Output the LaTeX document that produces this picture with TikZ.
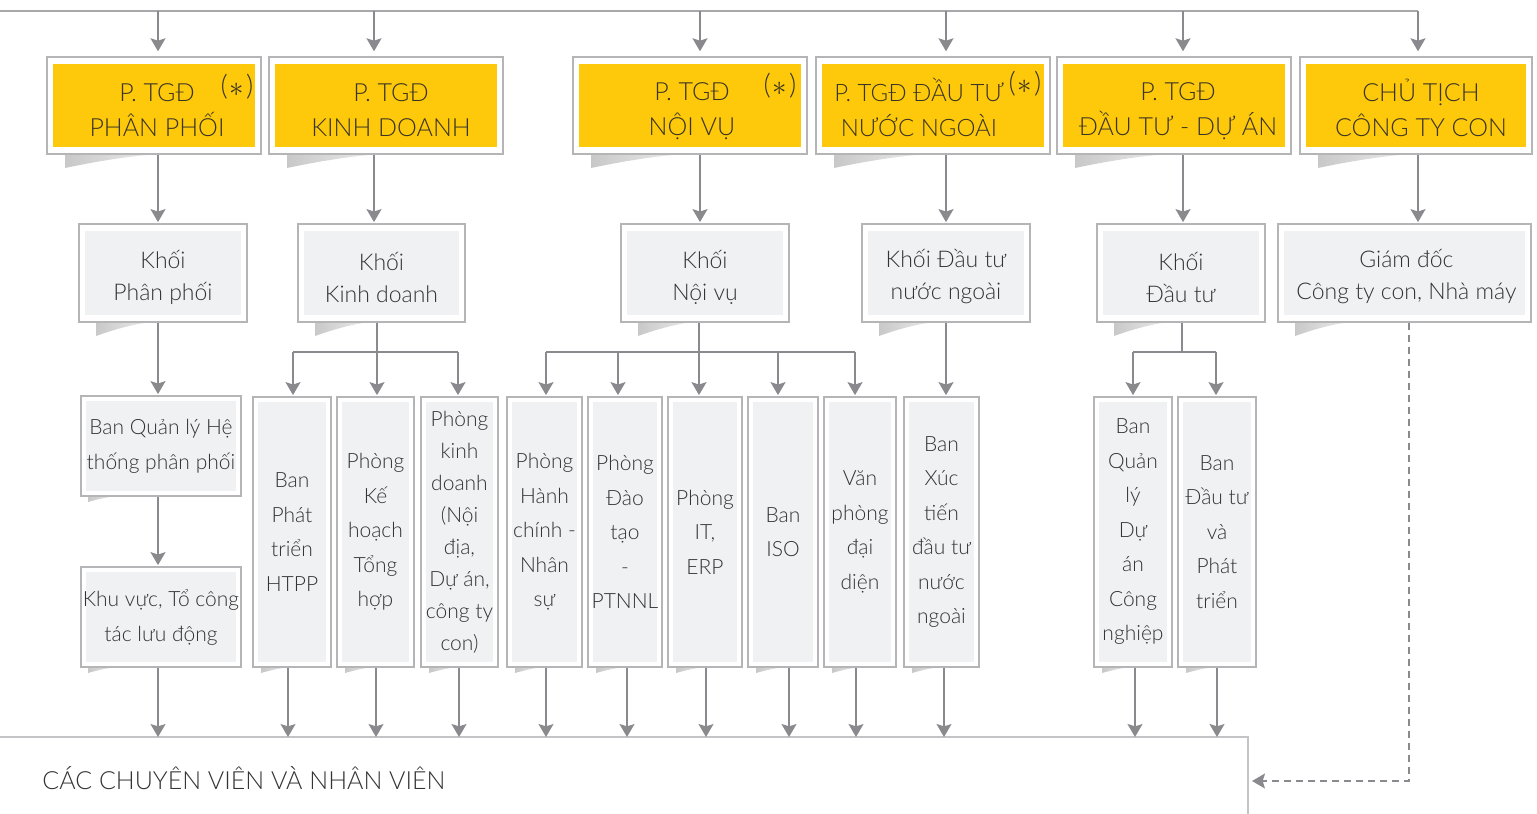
\documentclass[tikz,border=0pt]{standalone}
\usepackage{fontspec}
\setmainfont{Lato Light}
\usetikzlibrary{arrows.meta}
\definecolor{ylw}{HTML}{FEC90B}
\definecolor{innerc}{HTML}{F0F1F3}
\definecolor{framec}{HTML}{B5B5B8}
\definecolor{linec}{HTML}{8A8A8E}
\definecolor{topc}{HTML}{A8A8AB}
\definecolor{txtc}{HTML}{333333}
\definecolor{ytxt}{HTML}{3A3424}
\definecolor{shdk}{HTML}{C8C8C8}
\definecolor{shlt}{HTML}{EDEDED}
\definecolor{staffc}{HTML}{C4C4C6}
\tikzset{
  frame/.style={draw=framec, line width=0.7pt, fill=white, inner sep=0pt},
  yin/.style={path picture={\fill[ylw] ([xshift=2.9pt,yshift=-3.4pt]path picture bounding box.north west) rectangle ([xshift=-2.9pt,yshift=3.3pt]path picture bounding box.south east);}},
  gin/.style={path picture={\fill[innerc] ([xshift=3pt,yshift=-3.4pt]path picture bounding box.north west) rectangle ([xshift=-3pt,yshift=3.4pt]path picture bounding box.south east);}},
  cin/.style={path picture={\fill[innerc] ([xshift=2.5pt,yshift=-2.6pt]path picture bounding box.north west) rectangle ([xshift=-2.5pt,yshift=2.6pt]path picture bounding box.south east);}},
  ytext/.style={text=ytxt, align=center, inner sep=0pt, font=\fontsize{12.5}{17.5}\selectfont},
  star/.style={text=ytxt, inner sep=0pt, font=\fontsize{14}{15}\selectfont},
  gtext/.style={text=txtc, align=center, inner sep=0pt, font=\fontsize{11.5}{16}\selectfont},
  atext/.style={text=txtc, align=center, inner sep=0pt, font=\fontsize{10.5}{17.5}\selectfont},
  ctext/.style={text=txtc, align=center, inner sep=0pt, font=\fontsize{10.5}{17.25}\selectfont},
  conn/.style={draw=linec, line width=0.9pt, -{Stealth[length=6.5pt,width=7.5pt,inset=1.2pt]}},
  wire/.style={draw=linec, line width=0.9pt},
  dconn/.style={draw=linec, line width=0.7pt, dash pattern=on 3.5pt off 2.5pt, -{Stealth[length=6.5pt,width=7.5pt,inset=1.2pt]}},
}
\newcommand{\starmark}{(\kern1pt\raisebox{-0.5pt}{$\ast$}\kern1pt)}
% #1 name, #2 x1, #3 y1, #4 x2, #5 y2, #6 inner style, #7 shadow offset, #8 shadow width, #9 shadow depth
\newcommand{\orgbox}[9]{%
  \shade[left color=shdk, right color=shlt] (#2+#7,#5) -- (#2+#7,#5+#9) .. controls (#2+#7+0.35*#8,#5+0.5*#9) and (#2+#7+0.7*#8,#5+0.12*#9) .. (#2+#7+#8,#5) -- cycle;
  \pgfmathsetmacro\obw{(#4-#2)*0.5}%
  \pgfmathsetmacro\obh{(#5-#3)*0.5}%
  \node[frame, #6, minimum width=\obw pt, minimum height=\obh pt] (#1) at ({(#2+#4)/2},{(#3+#5)/2}) {};%
}
\begin{document}
\begin{tikzpicture}[x=0.5pt,y=-0.5pt]
\useasboundingbox (0,0) rectangle (1537,814);

% ---------- boxes ----------
\orgbox{t1}{47}{57}{261}{154}{yin}{18}{95}{14}
\orgbox{t2}{269}{57}{503}{154}{yin}{18}{95}{14}
\orgbox{t3}{573}{57}{807}{154}{yin}{18}{95}{14}
\orgbox{t4}{816}{57}{1050}{154}{yin}{18}{95}{14}
\orgbox{t5}{1057}{57}{1291}{154}{yin}{18}{95}{14}
\orgbox{t6}{1300}{57}{1532}{154}{yin}{18}{95}{14}

\orgbox{k1}{79}{224}{247}{322}{gin}{17}{56}{14}
\orgbox{k2}{298}{224}{465}{322}{gin}{17}{56}{14}
\orgbox{k3}{621}{224}{789}{322}{gin}{17}{56}{14}
\orgbox{k4}{862}{224}{1030}{322}{gin}{17}{56}{14}
\orgbox{k5}{1097}{224}{1265}{322}{gin}{17}{56}{14}
\orgbox{k6}{1278}{224}{1531}{322}{gin}{17}{56}{14}

\orgbox{a1}{81}{396}{241}{496}{cin}{7}{30}{6}
\orgbox{a2}{81}{567}{241}{667}{cin}{7}{30}{6}

\orgbox{b1}{253}{397}{331}{667}{cin}{8}{30}{6}
\orgbox{b2}{337}{397}{414}{667}{cin}{8}{30}{6}
\orgbox{b3}{421}{397}{498}{667}{cin}{8}{30}{6}
\orgbox{c1}{507}{397}{582}{667}{cin}{8}{30}{6}
\orgbox{c2}{588}{397}{662}{667}{cin}{8}{30}{6}
\orgbox{c3}{668}{397}{742}{667}{cin}{8}{30}{6}
\orgbox{c4}{748}{397}{818}{667}{cin}{8}{30}{6}
\orgbox{c5}{824}{397}{896}{667}{cin}{8}{30}{6}
\orgbox{x1}{904}{397}{979}{667}{cin}{8}{30}{6}
\orgbox{e1}{1094}{397}{1172}{667}{cin}{8}{30}{6}
\orgbox{e2}{1178}{397}{1256}{667}{cin}{8}{30}{6}

% ---------- texts ----------
\node[ytext] (t1txt) at (157,110) {P. TGĐ\\PHÂN PHỐI};
\node[ytext] (t2txt) at (391,110) {P. TGĐ\\KINH DOANH};
\node[ytext] (t3txt) at (692,111.5) {P. TGĐ\\NỘI VỤ};
\node[ytext, font=\fontsize{12}{17.5}\selectfont] (t4txt) at (919,107.5) {P. TGĐ ĐẦU TƯ\\NƯỚC NGOÀI};
\node[ytext] (t5txt) at (1178,111.5) {P. TGĐ\\ĐẦU TƯ - DỰ ÁN};
\node[ytext] (t6txt) at (1421,107.5) {CHỦ TỊCH\\CÔNG TY CON};
\node[star] (s1) at (237,87) {\starmark};
\node[star] (s3) at (780,86) {\starmark};
\node[star] (s4) at (1025,84) {\starmark};

\node[gtext] (k1txt) at ([yshift=-2pt]k1.center) {Khối\\Phân phối};
\node[gtext] (k2txt) at ([yshift=-2pt]k2.center) {Khối\\Kinh doanh};
\node[gtext] (k3txt) at ([yshift=-2pt]k3.center) {Khối\\Nội vụ};
\node[gtext] (k4txt) at ([yshift=-2pt]k4.center) {Khối Đầu tư\\nước ngoài};
\node[gtext] (k5txt) at ([yshift=-2pt]k5.center) {Khối\\Đầu tư};
\node[gtext] (k6txt) at ([xshift=1pt,yshift=-2pt]k6.center) {Giám đốc\\Công ty con, Nhà máy};

\node[atext] (a1txt) at (a1.center) {Ban Quản lý Hệ\\thống phân phối};
\node[atext] (a2txt) at (a2.center) {Khu vực, Tổ công\\tác lưu động};

\node[ctext] (b1txt) at (b1.center) {Ban\\Phát\\triển\\HTPP};
\node[ctext] (b2txt) at (b2.center) {Phòng\\Kế\\hoạch\\Tổng\\hợp};
\node[ctext, font=\fontsize{10.5}{16}\selectfont] (b3txt) at (b3.center) {Phòng\\kinh\\doanh\\(Nội\\địa,\\Dự án,\\công ty\\con)};
\node[ctext] (c1txt) at (c1.center) {Phòng\\Hành\\chính -\\Nhân\\sự};
\node[ctext] (c2txt) at (c2.center) {Phòng\\Đào\\tạo\\-\\PTNNL};
\node[ctext] (c3txt) at (c3.center) {Phòng\\IT,\\ERP};
\node[ctext] (c4txt) at (c4.center) {Ban\\ISO};
\node[ctext] (c5txt) at (c5.center) {Văn\\phòng\\đại\\diện};
\node[ctext] (x1txt) at (x1.center) {Ban\\Xúc\\tiến\\đầu tư\\nước\\ngoài};
\node[ctext] (e1txt) at (e1.center) {Ban\\Quản\\lý\\Dự\\án\\Công\\nghiệp};
\node[ctext] (e2txt) at (e2.center) {Ban\\Đầu tư\\và\\Phát\\triển};

% ---------- staff area ----------
\coordinate (staffline) at (0,737);
\draw[staffc, line width=0.75pt] (staffline) -- (1248,737) -- (1248,814);
\node[text=txtc, inner sep=0pt, anchor=west, font=\fontsize{12.5}{14}\selectfont] (staff) at (42,778) {CÁC CHUYÊN VIÊN VÀ NHÂN VIÊN};

% ---------- top line and drops ----------
\coordinate (p1) at (158,11);
\coordinate (p2) at (374,11);
\coordinate (p3) at (700,11);
\coordinate (p4) at (946,11);
\coordinate (p5) at (1183,11);
\coordinate (p6) at (1418,11);
\draw[topc, line width=0.8pt] (0,11) -- (p6);
\foreach \d/\t/\k in {p1/t1/k1, p2/t2/k2, p3/t3/k3, p4/t4/k4, p5/t5/k5, p6/t6/k6}{
  \draw[conn, shorten >=2.5pt] (\d) -- (\d |- \t.north);
  \draw[conn, shorten >=0.6pt] (\d |- \t.south) -- (\d |- \k.north);
}

% Khoi Phan phoi chain
\draw[conn, shorten >=0.6pt] (p1 |- k1.south) -- (p1 |- a1.north);
\draw[conn, shorten >=0.6pt] (p1 |- a1.south) -- (p1 |- a2.north);

% Kinh doanh branch
\coordinate (bB) at (377,352);
\coordinate (bB1) at (293,352);
\coordinate (bB3) at (458,352);
\draw[wire] (bB |- k2.south) -- (bB);
\draw[wire] (bB1) -- (bB3);
\draw[conn, shorten >=0.6pt] (bB1) -- (bB1 |- b1.north);
\draw[conn, shorten >=0.6pt] (bB) -- (bB |- b2.north);
\draw[conn, shorten >=0.6pt] (bB3) -- (bB3 |- b3.north);

% Noi vu branch
\coordinate (bC) at (699,352);
\coordinate (bC1) at (546,352);
\coordinate (bC2) at (618,352);
\coordinate (bC4) at (778,352);
\coordinate (bC5) at (855,352);
\draw[wire] (bC |- k3.south) -- (bC);
\draw[wire] (bC1) -- (bC5);
\draw[conn, shorten >=0.6pt] (bC1) -- (bC1 |- c1.north);
\draw[conn, shorten >=0.6pt] (bC2) -- (bC2 |- c2.north);
\draw[conn, shorten >=0.6pt] (bC) -- (bC |- c3.north);
\draw[conn, shorten >=0.6pt] (bC4) -- (bC4 |- c4.north);
\draw[conn, shorten >=0.6pt] (bC5) -- (bC5 |- c5.north);

% Dau tu nuoc ngoai
\draw[conn, shorten >=0.6pt] (p4 |- k4.south) -- (p4 |- x1.north);

% Dau tu branch
\coordinate (bE) at (1182,352);
\coordinate (bE1) at (1133,352);
\coordinate (bE2) at (1216,352);
\draw[wire] (bE |- k5.south) -- (bE);
\draw[wire] (bE1) -- (bE2);
\draw[conn, shorten >=0.6pt] (bE1) -- (bE1 |- e1.north);
\draw[conn, shorten >=0.6pt] (bE2) -- (bE2 |- e2.north);

% to staff
\coordinate (o1) at (158,737);
\coordinate (o2) at (288,737);
\coordinate (o3) at (376,737);
\coordinate (o4) at (459,737);
\coordinate (o5) at (546,737);
\coordinate (o6) at (627,737);
\coordinate (o7) at (706,737);
\coordinate (o8) at (789,737);
\coordinate (o9) at (856,737);
\coordinate (o10) at (944,737);
\coordinate (o11) at (1135,737);
\coordinate (o12) at (1217,737);
\foreach \o/\b in {o1/a2, o2/b1, o3/b2, o4/b3, o5/c1, o6/c2, o7/c3, o8/c4, o9/c5, o10/x1, o11/e1, o12/e2}{
  \draw[conn] (\o |- \b.south) -- (\o);
}

% dashed from Giam doc
\coordinate (dd1) at (1409,781);
\coordinate (dd2) at (1252,781);
\draw[dconn] (dd1 |- k6.south) -- (dd1) -- (dd2);
\end{tikzpicture}
\end{document}
